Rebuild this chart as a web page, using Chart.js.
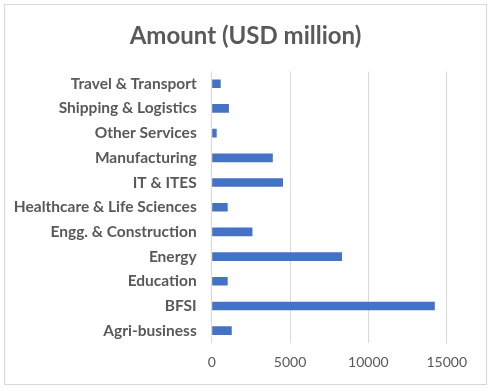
<!DOCTYPE html>
<html>
<head>
<meta charset="utf-8">
<script src="https://cdn.jsdelivr.net/npm/chart.js@4/dist/chart.umd.min.js"></script>
<style>
  html, body { margin: 0; padding: 0; background: #fff; }
  #wrap { position: relative; width: 491px; height: 389px; }
  #frame { position: absolute; left: 4px; top: 4px; width: 481px; height: 379px; border: 1px solid #d9d9d9; }
  #c { position: absolute; left: 0; top: 0; }
</style>
</head>
<body>
<div id="wrap">
  <div id="frame"></div>
  <canvas id="c" width="491" height="389"></canvas>
</div>
<script>
/* ---- data (Excel order: first category sits at the bottom) ---- */
var sectors = ['Agri-business', 'BFSI', 'Education', 'Energy', 'Engg. & Construction',
  'Healthcare & Life Sciences', 'IT & ITES', 'Manufacturing', 'Other Services',
  'Shipping & Logistics', 'Travel & Transport'];
var amounts = [1280, 14240, 1020, 8320, 2600, 1020, 4550, 3900, 320, 1100, 575];
var xTicks = [0, 5000, 10000, 15000];
var chartTitle = 'Amount (USD million)';

var TXT = '#595959';
var FONT = "Lato, 'Open Sans', sans-serif";

new Chart(document.getElementById('c').getContext('2d'), {
  type: 'bar',
  data: {
    labels: sectors,
    datasets: [{ data: amounts, backgroundColor: '#4472C4', borderWidth: 0,
      categoryPercentage: 1, barPercentage: 0.35 }]
  },
  options: {
    indexAxis: 'y',
    responsive: false,
    animation: false,
    devicePixelRatio: 1,
    layout: { padding: { left: 0, right: 0, top: 0, bottom: 7.2 } },
    plugins: {
      legend: { display: false },
      tooltip: { enabled: false },
      title: {
        display: true, text: chartTitle, color: TXT,
        font: { family: FONT, size: 24, weight: 'bold', lineHeight: 1.2 },
        padding: { top: 22, bottom: 20.6 }
      }
    },
    scales: {
      x: {
        min: 0, max: 15000,
        afterBuildTicks: function (s) { s.ticks = xTicks.map(function (v) { return { value: v }; }); },
        grid: { color: '#d9d9d9', drawTicks: false },
        border: { display: false },
        ticks: { color: TXT, padding: 11, font: { family: FONT, size: 14 }, maxRotation: 0,
          callback: function (v) { return String(v); } }
      },
      y: {
        reverse: true,
        afterFit: function (s) { s.width = 211.7; },
        grid: { display: false, drawTicks: false },
        border: { display: false },
        ticks: { color: TXT, padding: 15, autoSkip: false,
          font: { family: FONT, size: 15.5, weight: 'bold' } }
      },
      // empty spacer on the right so the plot ends at 15000 while the title stays centred
      yPad: {
        type: 'category', position: 'right',
        afterFit: function (s) { s.width = 44.3; },
        grid: { display: false, drawTicks: false },
        border: { display: false },
        ticks: { display: false }
      }
    }
  }
});
</script>
</body>
</html>
